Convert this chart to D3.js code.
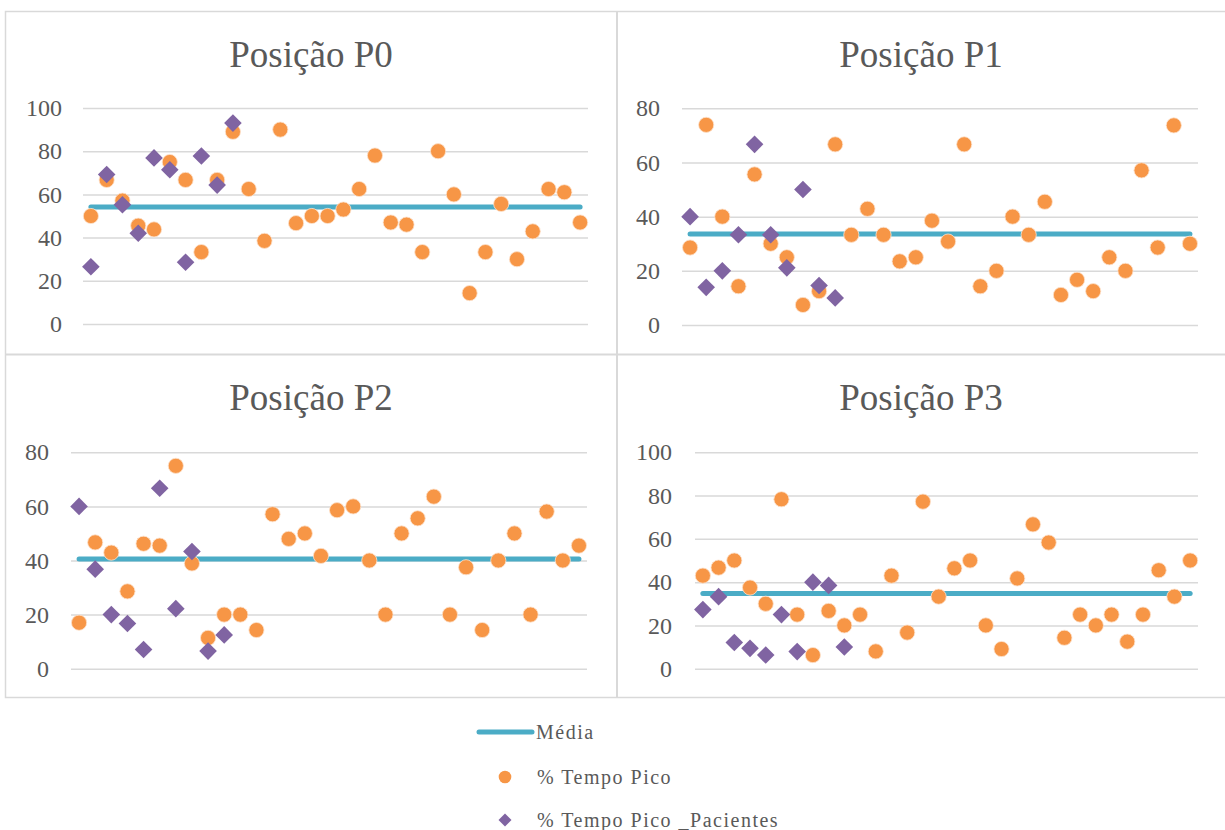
<!DOCTYPE html>
<html>
<head>
<meta charset="utf-8">
<script src="https://cdn.jsdelivr.net/npm/d3@7"></script>
<style>
  html, body { margin: 0; padding: 0; background: #ffffff; }
  svg { display: block; }
</style>
</head>
<body>
<svg id="chart" width="1225" height="830"></svg>
<script>
// Category slots (32 measurements per position)
const categories = [1, 2, 3, 4, 5, 6, 7, 8, 9, 10, 11, 12, 13, 14, 15, 16,
                    17, 18, 19, 20, 21, 22, 23, 24, 25, 26, 27, 28, 29, 30, 31, 32];

const panelTitles = ["Posição P0", "Posição P1", "Posição P2", "Posição P3"];
const legendLabels = ["Média", "% Tempo Pico", "% Tempo Pico _Pacientes"];

// % Tempo Pico
const picoP0 = [50, 66.7, 57.1, 45.5, 43.8, 75, 66.7, 33.3, 66.7, 89, 62.5, 38.5, 90, 46.7, 50, 50,
                53, 62.5, 78, 47, 46, 33.3, 80, 60, 14.3, 33.3, 55.6, 30, 42.9, 62.5, 61, 47];
const picoP1 = [28.6, 73.9, 40, 14.3, 55.6, 30, 25, 7.4, 12.5, 66.7, 33.3, 42.9, 33.3, 23.5, 25, 38.5,
                30.8, 66.7, 14.3, 20, 40, 33.3, 45.5, 11.1, 16.7, 12.5, 25, 20, 57.1, 28.6, 73.7, 30];
const picoP2 = [17, 46.7, 42.9, 28.6, 46.2, 45.5, 75, 38.9, 11.4, 20, 20, 14.3, 57.1, 48, 50, 41.7,
                58.6, 60, 40, 20, 50, 55.6, 63.6, 20, 37.5, 14.3, 40, 50, 20, 58.1, 40, 45.5];
const picoP3 = [43, 46.7, 50, 37.5, 30, 78.3, 25, 6.3, 26.7, 20, 25, 8, 43, 16.7, 77.2, 33.3,
                46.4, 50, 20, 9.1, 41.7, 66.7, 58.3, 14.3, 25, 20, 25, 12.5, 25, 45.5, 33.3, 50];

// % Tempo Pico _Pacientes (first ten slots)
const pacP0 = [26.5, 69.2, 55.2, 42, 76.9, 71.4, 28.6, 77.8, 64.3, 93];
const pacP1 = [40, 13.9, 20, 33.3, 66.7, 33.3, 21.1, 50, 14.6, 10];
const pacP2 = [60, 36.8, 20, 16.7, 7.1, 66.7, 22.2, 43.3, 6.5, 12.5];
const pacP3 = [27.3, 33.3, 12.1, 9.4, 6.3, 25, 7.9, 40, 38.5, 10];

// Média
const mediaValues = [54.2, 33.6, 40.6, 34.7];

// Axis maxima and tick values
const yMax = [100, 80, 80, 100];
const ticks100 = [0, 20, 40, 60, 80, 100];
const ticks80 = [0, 20, 40, 60, 80];

const COLORS = { media: "#4BACC6", pico: "#F79646", pac: "#8064A2", grid: "#D9D9D9", text: "#595959" };
const SERIF = "'Liberation Serif', 'Times New Roman', serif";

// Panel geometry: plot area edges, baseline/top in page pixels, label right edge, title centre
const layout = [
  { x0: 83,  x1: 588,  y0: 324,   y1: 108,   labelRight: 62,  tx: 311, ty: 67 },
  { x0: 682, x1: 1198, y0: 325,   y1: 108.3, labelRight: 660, tx: 921, ty: 67 },
  { x0: 71,  x1: 587,  y0: 668.7, y1: 452.3, labelRight: 49,  tx: 311, ty: 410 },
  { x0: 695, x1: 1198, y0: 668.7, y1: 452.3, labelRight: 672, tx: 921, ty: 410 }
];

const panels = [
  { title: panelTitles[0], pico: picoP0, pac: pacP0, media: mediaValues[0], max: yMax[0], ticks: ticks100 },
  { title: panelTitles[1], pico: picoP1, pac: pacP1, media: mediaValues[1], max: yMax[1], ticks: ticks80 },
  { title: panelTitles[2], pico: picoP2, pac: pacP2, media: mediaValues[2], max: yMax[2], ticks: ticks80 },
  { title: panelTitles[3], pico: picoP3, pac: pacP3, media: mediaValues[3], max: yMax[3], ticks: ticks100 }
];

const svg = d3.select("#chart");

// Outer frame and panel dividers
svg.append("rect")
  .attr("x", 5.5).attr("y", 11.5).attr("width", 1225).attr("height", 686)
  .attr("fill", "none").attr("stroke", COLORS.grid).attr("stroke-width", 1.5);
svg.append("line").attr("x1", 617).attr("x2", 617).attr("y1", 11).attr("y2", 697)
  .attr("stroke", COLORS.grid).attr("stroke-width", 2);
svg.append("line").attr("x1", 5).attr("x2", 1225).attr("y1", 354.5).attr("y2", 354.5)
  .attr("stroke", COLORS.grid).attr("stroke-width", 2);

// Diamond marker path with the given half-diagonal
const diamondPath = r => `M0,${-r}L${r},0L0,${r}L${-r},0Z`;

panels.forEach((p, i) => {
  const L = layout[i];
  const g = svg.append("g");

  const x = d3.scaleBand().domain(categories).range([L.x0, L.x1]).padding(0);
  const cx = c => x(c) + x.bandwidth() / 2;
  const y = d3.scaleLinear().domain([0, p.max]).range([L.y0, L.y1]);

  // Title
  g.append("text")
    .attr("x", L.tx).attr("y", L.ty)
    .attr("text-anchor", "middle")
    .attr("font-family", SERIF)
    .attr("font-size", 37)
    .attr("fill", COLORS.text)
    .text(p.title);

  // Y axis with gridlines
  const axis = d3.axisLeft(y)
    .tickValues(p.ticks)
    .tickSizeInner(-(L.x1 - L.x0))
    .tickSizeOuter(0)
    .tickPadding(L.x0 - L.labelRight)
    .tickFormat(d3.format("d"));
  const ag = g.append("g").attr("transform", `translate(${L.x0},0)`).call(axis);
  ag.select(".domain").remove();
  ag.selectAll(".tick line").attr("stroke", COLORS.grid).attr("stroke-width", 1.5);
  ag.selectAll(".tick text")
    .attr("fill", COLORS.text)
    .attr("font-family", SERIF)
    .attr("font-size", 24);

  // Média line across all slots
  const line = d3.line().x(c => cx(c)).y(() => y(p.media));
  g.append("path")
    .datum(categories)
    .attr("d", line)
    .attr("fill", "none")
    .attr("stroke", COLORS.media)
    .attr("stroke-width", 5)
    .attr("stroke-linecap", "round");

  // % Tempo Pico
  g.append("g").selectAll("circle")
    .data(categories.map((c, k) => ({ c, v: p.pico[k] })).filter(d => d.v != null))
    .join("circle")
    .attr("cx", d => cx(d.c))
    .attr("cy", d => y(d.v))
    .attr("r", 7.6)
    .attr("fill", COLORS.pico)
    .attr("stroke", "#FCE3CF")
    .attr("stroke-width", 0.8);

  // % Tempo Pico _Pacientes
  g.append("g").selectAll("path")
    .data(p.pac.map((v, k) => ({ c: categories[k], v })))
    .join("path")
    .attr("d", diamondPath(8.8))
    .attr("transform", d => `translate(${cx(d.c)},${y(d.v)})`)
    .attr("fill", COLORS.pac);
});

// Legend
const lg = svg.append("g")
  .attr("font-family", SERIF)
  .attr("font-size", 20)
  .attr("letter-spacing", "1.5px")
  .attr("fill", COLORS.text);

lg.append("line").attr("x1", 479).attr("x2", 532).attr("y1", 732).attr("y2", 732)
  .attr("stroke", COLORS.media).attr("stroke-width", 5).attr("stroke-linecap", "round");
lg.append("text").attr("x", 536).attr("y", 732).attr("dy", "0.35em").text(legendLabels[0]);

lg.append("circle").attr("cx", 505).attr("cy", 777).attr("r", 6.3).attr("fill", COLORS.pico);
lg.append("text").attr("x", 537).attr("y", 777).attr("dy", "0.35em").text(legendLabels[1]);

lg.append("path").attr("d", diamondPath(6.5))
  .attr("transform", "translate(505,820)").attr("fill", COLORS.pac);
lg.append("text").attr("x", 537).attr("y", 820).attr("dy", "0.35em").text(legendLabels[2]);
</script>
</body>
</html>
